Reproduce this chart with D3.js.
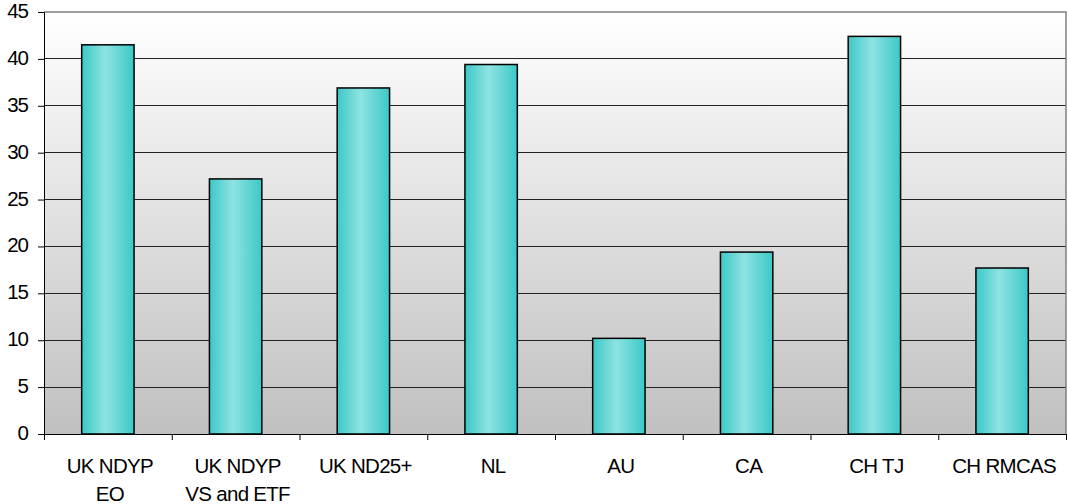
<!DOCTYPE html>
<html><head><meta charset="utf-8">
<script src="https://cdn.jsdelivr.net/npm/d3@7"></script>
<style>body{margin:0;background:#fff}svg{display:block;font-family:"Liberation Sans",Arial,sans-serif}</style>
</head><body><svg id="c" width="1067" height="504"></svg>
<script>
const categories = [["UK NDYP","EO"],["UK NDYP","VS and ETF"],["UK ND25+"],["NL"],["AU"],["CA"],["CH TJ"],["CH RMCAS"]];
const values = [41.5, 27.2, 36.9, 39.4, 10.2, 19.4, 42.4, 17.7];
const yTicks = [0,5,10,15,20,25,30,35,40,45];

const svg = d3.select("#c");
const L=44, R=1066, T=12, B=434;
const FS = 20.5;
const x = d3.scaleBand().domain(d3.range(categories.length)).range([L,R]).paddingInner(0.59).paddingOuter(0.295);
const y = d3.scaleLinear().domain([0,45]).range([B,T]);

const defs = svg.append("defs");
const bg = defs.append("linearGradient").attr("id","bg").attr("x1",0).attr("y1",0).attr("x2",0).attr("y2",1);
bg.append("stop").attr("offset","0%").attr("stop-color","#ffffff");
bg.append("stop").attr("offset","100%").attr("stop-color","#c0c0c0");
const bar = defs.append("linearGradient").attr("id","bar").attr("x1",0).attr("y1",0).attr("x2",1).attr("y2",0);
bar.append("stop").attr("offset","0%").attr("stop-color","#3cc8c8");
bar.append("stop").attr("offset","45%").attr("stop-color","#8ee3e0");
bar.append("stop").attr("offset","100%").attr("stop-color","#3cc8c8");

svg.append("rect").attr("x",L).attr("y",T).attr("width",R-L).attr("height",B-T).attr("fill","url(#bg)");

svg.append("g").selectAll("line").data(yTicks.filter(d=>d>0&&d<45)).join("line")
  .attr("x1",L).attr("x2",R).attr("y1",d=>y(d)).attr("y2",d=>y(d))
  .attr("stroke","#222").attr("stroke-width",1).attr("shape-rendering","crispEdges");
svg.append("path").attr("d",`M${L},${T}H${R}V${B}`).attr("fill","none").attr("stroke","#808080").attr("stroke-width",1.5);

svg.append("g").selectAll("rect").data(values).join("rect")
  .attr("x",(d,i)=>x(i)).attr("width",x.bandwidth())
  .attr("y",d=>y(d)).attr("height",d=>B-y(d))
  .attr("fill","url(#bar)").attr("stroke","#000").attr("stroke-width",1.5);

const ya = d3.axisLeft(y).tickValues(yTicks).tickSize(6).tickPadding(10);
const gy = svg.append("g").attr("transform",`translate(${L},0)`).call(ya);
gy.selectAll("text").attr("font-size",FS).attr("dy","0.27em").attr("letter-spacing",-1).attr("fill","#000").style("font-family","Liberation Sans, Arial, sans-serif");
gy.select(".domain").attr("stroke","#000");
gy.selectAll("line").attr("stroke","#000");

const xb = d3.scaleLinear().domain([0,categories.length]).range([L,R]);
const gx = svg.append("g").attr("transform",`translate(0,${B})`).call(d3.axisBottom(xb).tickValues(d3.range(categories.length+1)).tickSize(6).tickFormat(""));
gx.select(".domain").attr("stroke","#000");
gx.selectAll("line").attr("stroke","#000");

svg.append("g").selectAll("text").data(categories).join("text")
  .attr("x",(d,i)=>x(i)+x.bandwidth()/2+2).attr("y",B+39)
  .attr("text-anchor","middle").attr("font-size",FS).attr("letter-spacing",-0.7).attr("fill","#000")
  .each(function(d){
    const t=d3.select(this);
    d.forEach((s,k)=>t.append("tspan").attr("x",t.attr("x")).attr("dy",k?27.5:0).text(s));
  });
</script></body></html>
